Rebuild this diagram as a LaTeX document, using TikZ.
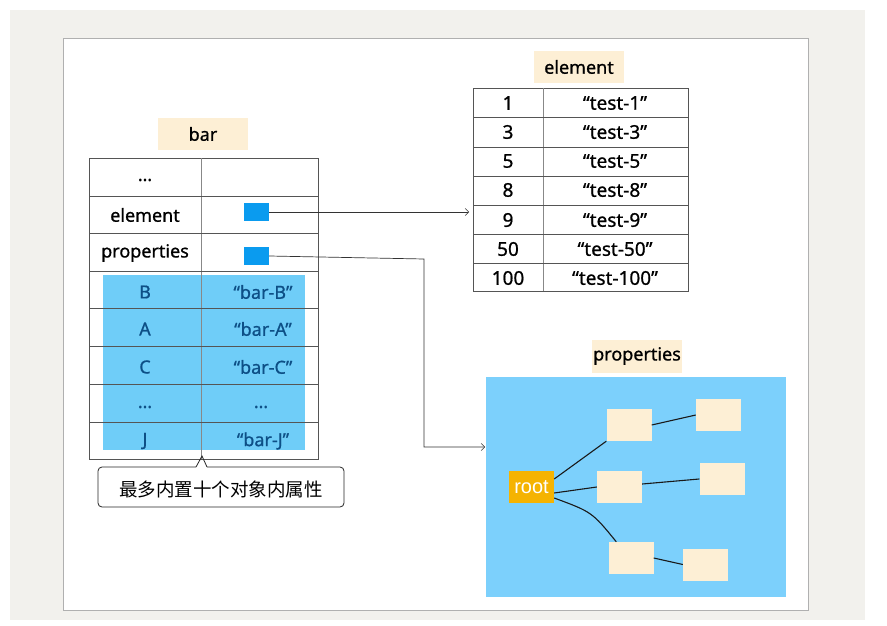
\documentclass[tikz,border=0pt]{standalone}
\usepackage{fontspec}
\setmainfont{Noto Sans}[FakeBold=0.8]
\newfontfamily\cjk{Noto Sans CJK SC}
\newfontfamily\arialf{Liberation Sans}
\usetikzlibrary{arrows.meta}
\definecolor{bggray}{HTML}{F2F1ED}
\definecolor{panelline}{HTML}{B0B0B0}
\definecolor{cream}{HTML}{FDEFD5}
\definecolor{sqblue}{HTML}{0A9BEF}
\definecolor{hlblue}{HTML}{6FCDF8}
\definecolor{pblue}{HTML}{7CD0FC}
\definecolor{txtblue}{HTML}{0D4F86}
\definecolor{rootor}{HTML}{F5B301}
\definecolor{gridc}{HTML}{555555}
\tikzset{
  lbl/.style={fill=cream, inner sep=0pt, font=\fontsize{18}{20}\selectfont},
  cell/.style={inner sep=0pt, font=\fontsize{18}{20}\selectfont},
  bcell/.style={cell, text=txtblue},
  ecell/.style={inner sep=0pt, font=\fontsize{19}{21}\selectfont},
  grid/.style={draw=gridc, line width=0.8pt},
  sq/.style={fill=sqblue, minimum width=25pt, minimum height=18pt, inner sep=0pt},
  conn/.style={draw=black!80, line width=0.7pt, -{Straight Barb[length=3.5pt,width=7pt,line width=0.5pt]}},
  tbox/.style={fill=cream, minimum width=45pt, minimum height=32pt, inner sep=0pt},
  tline/.style={draw=black!90, line width=1.1pt},
}
\begin{document}
\begin{tikzpicture}[x=1pt,y=-1pt]
\useasboundingbox (0,0) rectangle (887,626);
\fill[white] (0,0) rectangle (887,626);
\fill[bggray] (10,10) rectangle (865,620);
\filldraw[fill=white, draw=panelline, line width=0.8pt] (63,38) rectangle (808,610);

% ---------- bar table ----------
\node[lbl, minimum width=90pt, minimum height=32pt] (barlbl) at (203,134) {bar};
\fill[hlblue] (103,275) rectangle (305,450);
\draw[grid] (89,158) rectangle (318,459);
\draw[grid, draw=gridc!70] (201,158) -- (201,459);
\foreach \y in {196,233,271,308,346,384,422} \draw[grid] (89,\y) -- (318,\y);

\node[cell] (b1a) at (145,180) {…};
\node[cell] (b2a) at (145,215) {element};
\node[cell] (b3a) at (145,253) {properties};
\node[sq] (esq) at (256.5,212) {};
\node[sq] (psq) at (256.5,256) {};

\node[bcell] (r1a) at (145,292) {B};
\node[bcell] (r1b) at (263,292) {“bar-B”};
\node[bcell] (r2a) at (145,329) {A};
\node[bcell] (r2b) at (263,329) {“bar-A”};
\node[bcell] (r3a) at (145,367) {C};
\node[bcell] (r3b) at (263,367) {“bar-C”};
\node[bcell] (r4a) at (145,407) {…};
\node[bcell] (r4b) at (261,407) {…};
\node[bcell] (r5a) at (145,441) {J};
\node[bcell] (r5b) at (263,441) {“bar-J”};

% callout
\draw[draw=black!85, line width=0.8pt, rounded corners=4pt]
  (196,467) -- (98,467) -- (98,507) -- (344,507) -- (344,467) -- (207,467);
\draw[draw=black!85, line width=0.8pt] (196,467) -- (202,456) -- (207,467);
\node[inner sep=0pt, font=\cjk\fontsize{18.5}{20}\selectfont] (note) at (221,489) {最多内置十个对象内属性};

% ---------- element table ----------
\node[lbl, minimum width=90pt, minimum height=32pt] (ellbl) at (579,67) {element};
\draw[grid] (473,88) rectangle (688,291);
\draw[grid, draw=gridc!70] (543,88) -- (543,291);
\foreach \y in {117,147,176,205,234,263} \draw[grid] (473,\y) -- (688,\y);
\foreach \k/\y in {1/103,3/132,5/161,8/190,9/220,50/249,100/278}
  \node[ecell] (e\k) at (508,\y) {\k};
\foreach \k/\y in {1/103,3/132,5/161,8/190,9/220,50/249,100/278}
  \node[ecell] (t\k) at (615,\y) {“test-\k”};

% ---------- properties ----------
\node[lbl, minimum width=90pt, minimum height=33pt] (prlbl) at (637,356) {properties};
\fill[pblue] (486,377) rectangle (786,597);
\node[fill=rootor, text=white, minimum width=45pt, minimum height=32pt, inner sep=0pt,
      font=\arialf\fontsize{20}{22}\selectfont] (root) at (531.5,487) {root};
\node[tbox] (A) at (629,425) {};
\node[tbox] (B) at (718.5,415) {};
\node[tbox] (C) at (619.5,487) {};
\node[tbox] (D) at (722,479) {};
\node[tbox] (E) at (631,558) {};
\node[tbox] (F) at (705.5,564.5) {};
\draw[tline] ([yshift=8pt]root.east) -- (A.south west);
\draw[tline] ([yshift=-6pt]root.east) -- (C.west);
\draw[tline] ([yshift=-11pt]root.east) .. controls (592,512) .. ([xshift=8pt]E.north west);
\draw[tline] (A.east) -- (B.west);
\draw[tline] ([yshift=3pt]C.east) -- (D.west);
\draw[tline] (E.east) -- (F.west);

% ---------- connectors ----------
\coordinate (elarrow) at (469,212);
\coordinate (prarrow) at (485,447);
\draw[conn] (esq.east) -- (elarrow);
\draw[conn] (psq.east) -- (424,259) |- (prarrow);
\end{tikzpicture}
\end{document}
